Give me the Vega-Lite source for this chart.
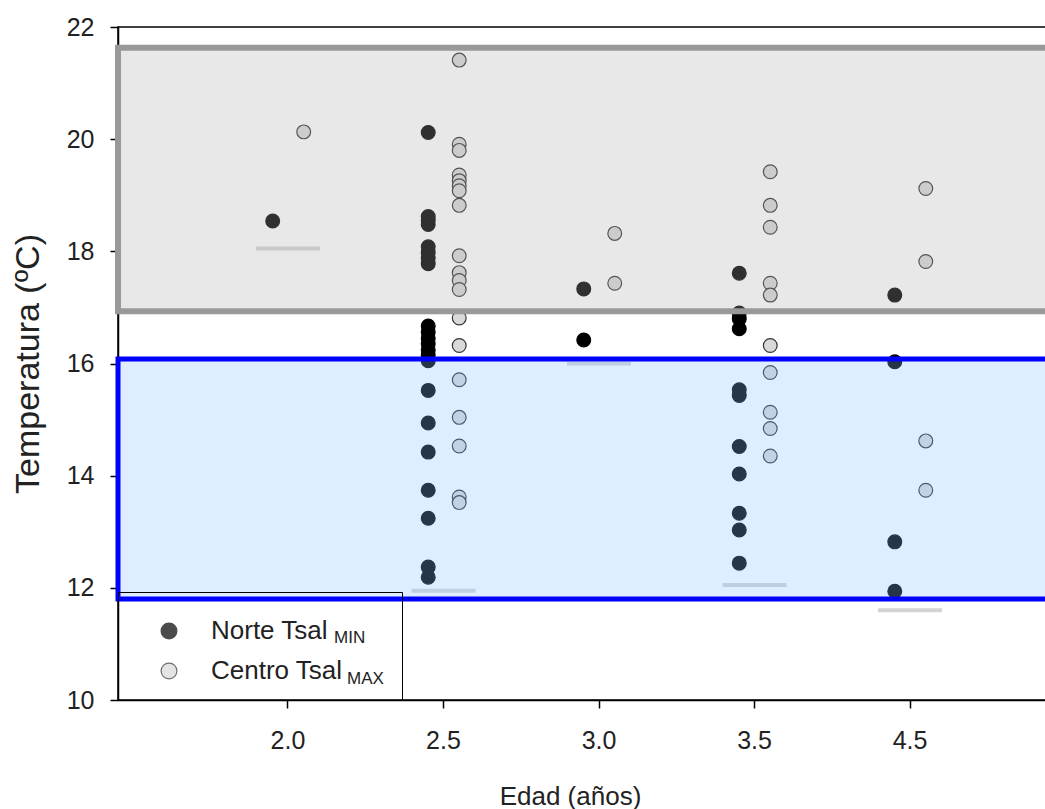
{
  "$schema": "https://vega.github.io/schema/vega-lite/v6.json",
  "width": 930,
  "height": 673,
  "autosize": {"type": "none"},
  "padding": {"left": 118, "top": 27, "right": 0, "bottom": 109},
  "background": "white",
  "config": {
    "font": "Liberation Sans",
    "view": {"stroke": "#000000", "strokeWidth": 1.5},
    "axis": {
      "grid": false,
      "domainColor": "#000000",
      "domainWidth": 1.5,
      "tickColor": "#000000",
      "tickSize": 8,
      "tickWidth": 1.5,
      "labelFont": "Liberation Sans",
      "labelFontSize": 25,
      "labelColor": "#222222",
      "titleFont": "Liberation Sans",
      "titleColor": "#222222",
      "titleFontWeight": "normal",
      "zindex": 1
    }
  },
  "datasets": {
    "pts": [
      {"age": "2.0", "series": "Norte", "sub": "MIN", "temp": 18.54},
      {"age": "2.5", "series": "Norte", "sub": "MIN", "temp": 20.12},
      {"age": "2.5", "series": "Norte", "sub": "MIN", "temp": 18.62},
      {"age": "2.5", "series": "Norte", "sub": "MIN", "temp": 18.55},
      {"age": "2.5", "series": "Norte", "sub": "MIN", "temp": 18.48},
      {"age": "2.5", "series": "Norte", "sub": "MIN", "temp": 18.08},
      {"age": "2.5", "series": "Norte", "sub": "MIN", "temp": 17.98},
      {"age": "2.5", "series": "Norte", "sub": "MIN", "temp": 17.88},
      {"age": "2.5", "series": "Norte", "sub": "MIN", "temp": 17.78},
      {"age": "2.5", "series": "Norte", "sub": "MIN", "temp": 16.67},
      {"age": "2.5", "series": "Norte", "sub": "MIN", "temp": 16.56},
      {"age": "2.5", "series": "Norte", "sub": "MIN", "temp": 16.45},
      {"age": "2.5", "series": "Norte", "sub": "MIN", "temp": 16.35},
      {"age": "2.5", "series": "Norte", "sub": "MIN", "temp": 16.24},
      {"age": "2.5", "series": "Norte", "sub": "MIN", "temp": 16.15},
      {"age": "2.5", "series": "Norte", "sub": "MIN", "temp": 16.05},
      {"age": "2.5", "series": "Norte", "sub": "MIN", "temp": 15.52},
      {"age": "2.5", "series": "Norte", "sub": "MIN", "temp": 14.94},
      {"age": "2.5", "series": "Norte", "sub": "MIN", "temp": 14.42},
      {"age": "2.5", "series": "Norte", "sub": "MIN", "temp": 13.74},
      {"age": "2.5", "series": "Norte", "sub": "MIN", "temp": 13.24},
      {"age": "2.5", "series": "Norte", "sub": "MIN", "temp": 12.37},
      {"age": "2.5", "series": "Norte", "sub": "MIN", "temp": 12.19},
      {"age": "3.0", "series": "Norte", "sub": "MIN", "temp": 17.33},
      {"age": "3.0", "series": "Norte", "sub": "MIN", "temp": 16.42},
      {"age": "3.5", "series": "Norte", "sub": "MIN", "temp": 17.61},
      {"age": "3.5", "series": "Norte", "sub": "MIN", "temp": 16.9},
      {"age": "3.5", "series": "Norte", "sub": "MIN", "temp": 16.8},
      {"age": "3.5", "series": "Norte", "sub": "MIN", "temp": 16.62},
      {"age": "3.5", "series": "Norte", "sub": "MIN", "temp": 15.53},
      {"age": "3.5", "series": "Norte", "sub": "MIN", "temp": 15.43},
      {"age": "3.5", "series": "Norte", "sub": "MIN", "temp": 14.52},
      {"age": "3.5", "series": "Norte", "sub": "MIN", "temp": 14.03},
      {"age": "3.5", "series": "Norte", "sub": "MIN", "temp": 13.33},
      {"age": "3.5", "series": "Norte", "sub": "MIN", "temp": 13.03},
      {"age": "3.5", "series": "Norte", "sub": "MIN", "temp": 12.44},
      {"age": "4.5", "series": "Norte", "sub": "MIN", "temp": 17.22},
      {"age": "4.5", "series": "Norte", "sub": "MIN", "temp": 16.03},
      {"age": "4.5", "series": "Norte", "sub": "MIN", "temp": 12.82},
      {"age": "4.5", "series": "Norte", "sub": "MIN", "temp": 11.94},
      {"age": "2.0", "series": "Centro", "sub": "MAX", "temp": 20.13},
      {"age": "2.5", "series": "Centro", "sub": "MAX", "temp": 21.41},
      {"age": "2.5", "series": "Centro", "sub": "MAX", "temp": 19.91},
      {"age": "2.5", "series": "Centro", "sub": "MAX", "temp": 19.8},
      {"age": "2.5", "series": "Centro", "sub": "MAX", "temp": 19.36},
      {"age": "2.5", "series": "Centro", "sub": "MAX", "temp": 19.26},
      {"age": "2.5", "series": "Centro", "sub": "MAX", "temp": 19.17},
      {"age": "2.5", "series": "Centro", "sub": "MAX", "temp": 19.08},
      {"age": "2.5", "series": "Centro", "sub": "MAX", "temp": 18.82},
      {"age": "2.5", "series": "Centro", "sub": "MAX", "temp": 17.92},
      {"age": "2.5", "series": "Centro", "sub": "MAX", "temp": 17.62},
      {"age": "2.5", "series": "Centro", "sub": "MAX", "temp": 17.48},
      {"age": "2.5", "series": "Centro", "sub": "MAX", "temp": 17.32},
      {"age": "2.5", "series": "Centro", "sub": "MAX", "temp": 16.81},
      {"age": "2.5", "series": "Centro", "sub": "MAX", "temp": 16.32},
      {"age": "2.5", "series": "Centro", "sub": "MAX", "temp": 15.71},
      {"age": "2.5", "series": "Centro", "sub": "MAX", "temp": 15.04},
      {"age": "2.5", "series": "Centro", "sub": "MAX", "temp": 14.53},
      {"age": "2.5", "series": "Centro", "sub": "MAX", "temp": 13.62},
      {"age": "2.5", "series": "Centro", "sub": "MAX", "temp": 13.52},
      {"age": "3.0", "series": "Centro", "sub": "MAX", "temp": 18.32},
      {"age": "3.0", "series": "Centro", "sub": "MAX", "temp": 17.43},
      {"age": "3.5", "series": "Centro", "sub": "MAX", "temp": 19.42},
      {"age": "3.5", "series": "Centro", "sub": "MAX", "temp": 18.82},
      {"age": "3.5", "series": "Centro", "sub": "MAX", "temp": 18.43},
      {"age": "3.5", "series": "Centro", "sub": "MAX", "temp": 17.43},
      {"age": "3.5", "series": "Centro", "sub": "MAX", "temp": 17.22},
      {"age": "3.5", "series": "Centro", "sub": "MAX", "temp": 16.32},
      {"age": "3.5", "series": "Centro", "sub": "MAX", "temp": 15.84},
      {"age": "3.5", "series": "Centro", "sub": "MAX", "temp": 15.13},
      {"age": "3.5", "series": "Centro", "sub": "MAX", "temp": 14.84},
      {"age": "3.5", "series": "Centro", "sub": "MAX", "temp": 14.35},
      {"age": "4.5", "series": "Centro", "sub": "MAX", "temp": 19.12},
      {"age": "4.5", "series": "Centro", "sub": "MAX", "temp": 17.82},
      {"age": "4.5", "series": "Centro", "sub": "MAX", "temp": 14.62},
      {"age": "4.5", "series": "Centro", "sub": "MAX", "temp": 13.74}
    ],
    "refs": [
      {"age": "2.0", "temp": 18.05},
      {"age": "2.5", "temp": 11.95},
      {"age": "3.0", "temp": 16.0},
      {"age": "3.5", "temp": 12.05},
      {"age": "4.5", "temp": 11.6}
    ],
    "grayband": [{"lo": 16.93, "hi": 21.63}],
    "blueband": [{"lo": 11.8, "hi": 16.08}]
  },
  "layer": [
    {
      "data": {"name": "refs"},
      "mark": {"type": "tick", "color": "#d4d4d4", "thickness": 4, "size": 64, "opacity": 1},
      "encoding": {
        "x": {
          "field": "age", "type": "nominal",
          "scale": {"type": "band", "domain": ["2.0", "2.5", "3.0", "3.5", "4.5"], "paddingInner": 0, "paddingOuter": 0.49, "align": 0.605},
          "axis": {"title": "Edad (años)", "labelAngle": 0, "labelPadding": 20, "titlePadding": 30, "titleFontSize": 26, "titleX": 452}
        },
        "y": {
          "field": "temp", "type": "quantitative",
          "scale": {"domain": [10, 22], "nice": false, "zero": false},
          "axis": {"title": "Temperatura (ºC)", "values": [10, 12, 14, 16, 18, 20, 22], "format": "d", "labelPadding": 16, "titlePadding": 21, "titleFontSize": 34}
        }
      }
    },
    {
      "data": {"name": "pts"},
      "mark": {"type": "point", "filled": true, "size": 190, "shape": "circle"},
      "encoding": {
        "x": {"field": "age", "type": "nominal"},
        "xOffset": {"field": "series", "type": "nominal", "scale": {"domain": ["Norte", "Centro"], "paddingInner": 0, "paddingOuter": 0, "range": [62.5, 93.5]}},
        "y": {"field": "temp", "type": "quantitative"},
        "color": {
          "field": "series", "type": "nominal",
          "scale": {"domain": ["Norte", "Centro"], "range": ["#000000", "#d9d9d9"]},
          "legend": {
            "title": "\u2800\u2800\u2800\u2800\u2800\u2800\u2800\u2800\u2800\u2800\u2800\u2800\u2800\u2800\u2800\u2800\u2800\u2800\u2800\u2800\u2800\u2800\u2800\u2800\u2800\u2800\u2800\u2800\u2800\u2800\u2800\u2800\u2800\u2800\u2800\u2800\u2800\u2800\u2800\u2800\u2800\u2800\u2800\u2800\u2800\u2800\u2800\u2800\u2800\u2800\u2800\u2800\u2800\u2800\u2800\u2800\u2800\u2800\u2800\u2800\u2800\u2800\u2800",
            "titleFontSize": 6,
            "titlePadding": 4,
            "titleColor": "#ffffff",
            "titleLimit": 1000,
            "orient": "bottom-left",
            "offset": 0,
            "padding": 16,
            "strokeColor": "#000000",
            "symbolType": "circle",
            "symbolSize": 250,
            "symbolStrokeWidth": 1.2,
            "labelFontSize": 26,
            "labelFont": "Liberation Sans",
            "labelColor": "#222222",
            "rowPadding": 14,
            "symbolOffset": 22,
            "labelOffset": 29,
            "labelLimit": 400,
            "labelExpr": "datum.label === 'Norte' ? 'Norte Tsal' : 'Centro Tsal'"
          }
        },
        "stroke": {
          "field": "series", "type": "nominal",
          "scale": {"domain": ["Norte", "Centro"], "range": ["#000000", "#333333"]}
        },
        "opacity": {
          "field": "sub", "type": "ordinal",
          "scale": {"domain": ["MIN", "MAX"], "range": [1, 1]},
          "legend": {
            "title": null,
            "values": ["MIN"],
            "orient": "none",
            "legendX": 199,
            "legendY": 602,
            "padding": 0,
            "symbolSize": 0,
            "symbolStrokeWidth": 0,
            "symbolOpacity": 0,
            "symbolOffset": 0,
            "labelOffset": 0,
            "labelFontSize": 17,
            "labelFont": "Liberation Sans",
            "labelColor": "#222222",
            "labelLimit": 200
          }
        },
        "strokeWidth": {
          "field": "sub", "type": "ordinal",
          "scale": {"domain": ["MAX", "MIN"], "range": [1.2, 1.2]},
          "legend": {
            "title": null,
            "values": ["MAX"],
            "orient": "none",
            "legendX": 212,
            "legendY": 643,
            "padding": 0,
            "symbolSize": 0,
            "symbolStrokeWidth": 0,
            "symbolOpacity": 0,
            "symbolOffset": 0,
            "labelOffset": 0,
            "labelFontSize": 17,
            "labelFont": "Liberation Sans",
            "labelColor": "#222222",
            "labelLimit": 200
          }
        }
      }
    },
    {
      "data": {"name": "grayband"},
      "mark": {"type": "rect", "fill": "#acacac", "fillOpacity": 0.28, "stroke": "#999999", "strokeWidth": 6},
      "encoding": {
        "y": {"field": "hi", "type": "quantitative"},
        "y2": {"field": "lo"}
      }
    },
    {
      "data": {"name": "blueband"},
      "mark": {"type": "rect", "fill": "#8ac0ff", "fillOpacity": 0.28, "stroke": "#0000ff", "strokeWidth": 5},
      "encoding": {
        "y": {"field": "hi", "type": "quantitative"},
        "y2": {"field": "lo"}
      }
    }
  ]
}
